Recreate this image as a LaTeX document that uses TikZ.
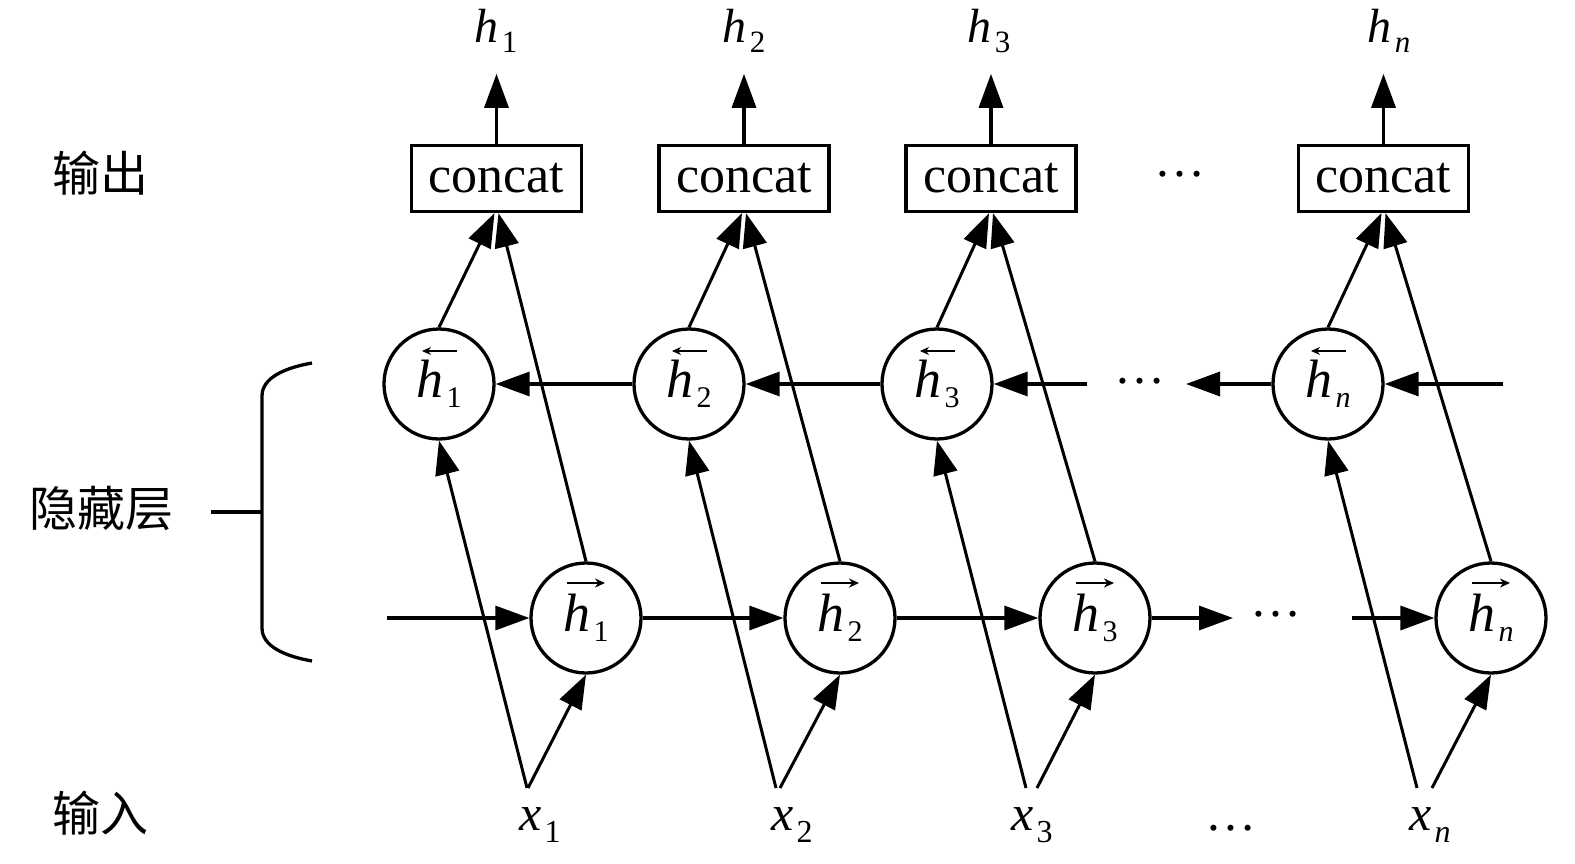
\documentclass[tikz,border=0pt]{standalone}
\usepackage{fontspec}
\setmainfont{Liberation Serif}
\newfontfamily\cjk{Noto Sans CJK SC}
\usetikzlibrary{arrows.meta}
\newcommand{\hcirc}[1]{{\fontsize{54}{54}\selectfont\itshape h}\kern3pt\raisebox{-10pt}{\fontsize{30}{30}\selectfont #1}}
\newcommand{\hout}[1]{{\fontsize{48}{48}\selectfont\itshape h}\kern3pt\raisebox{-10pt}{\fontsize{31}{31}\selectfont #1}}
\newcommand{\xin}[1]{{\fontsize{50}{50}\selectfont\itshape x}\kern3pt\raisebox{-12pt}{\fontsize{32}{32}\selectfont #1}}
\begin{document}
\begin{tikzpicture}[x=1pt,y=-1pt,
  circ/.style={circle,draw,line width=3.3pt,minimum size=110pt,inner sep=0pt},
  cbox/.style={draw,line width=3.3pt,minimum width=170pt,minimum height=66pt,inner sep=0pt,font=\fontsize{52}{52}\selectfont},
  lbl/.style={inner sep=0pt},
  cn/.style={inner sep=0pt,font=\cjk\fontsize{48}{48}\selectfont},
  dots/.style={inner sep=0pt,anchor=base,font=\fontsize{51}{51}\selectfont},
  arr/.style={line width=3.4pt,-{Triangle[length=34pt,width=24pt]}},
  darr/.style={line width=3pt,-{Triangle[length=34pt,width=24pt]}},
  sbarr/.style={line width=1.2pt,-{Stealth[length=9pt,width=8pt]}},
  sfarr/.style={line width=2.2pt,-{Stealth[length=10pt,width=9pt]}}
]
\useasboundingbox (0,0) rectangle (1575,864);
\fill[white] (0,0) rectangle (1575,864);

% side labels
\node[cn] (lout) at (100,173) {输出};
\node[cn] (lhid) at (101,508) {隐藏层};
\node[cn] (lin) at (100,813) {输入};
\draw[line width=3.3pt] (312,363) .. controls (284,368) and (262,378) .. (262,396) -- (262,628) .. controls (262,646) and (284,656) .. (312,661);
\draw[line width=3.3pt] (211,512) -- (262,512);

% concat boxes
\node[cbox] (c1) at (496.5,178.5) {concat};
\node[cbox] (c2) at (744,178.5) {concat};
\node[cbox] (c3) at (991,178.5) {concat};
\node[cbox] (cn) at (1383.5,178.5) {concat};
\node[dots] (cdots) at (1180,176.5) {…};

% outputs
\node[lbl] (o1) at (496,31) {\hout{1}};
\node[lbl] (o2) at (744,31) {\hout{2}};
\node[lbl] (o3) at (989,31) {\hout{3}};
\node[lbl] (on) at (1389,31) {\hout{\itshape n}};
\path (c1.north) ++(0,-70) coordinate (t1);
\path (c2.north) ++(0,-70) coordinate (t2);
\path (c3.north) ++(0,-70) coordinate (t3);
\path (cn.north) ++(0,-70) coordinate (tn);
\draw[arr] (c1.north) -- (t1);
\draw[arr] (c2.north) -- (t2);
\draw[arr] (c3.north) -- (t3);
\draw[arr] (cn.north) -- (tn);

% backward circles
\node[circ] (b1) at (439,384) {\hcirc{1}};
\node[circ] (b2) at (689,384) {\hcirc{2}};
\node[circ] (b3) at (937,384) {\hcirc{3}};
\node[circ] (bn) at (1328,384) {\hcirc{\itshape n}};
% forward circles
\node[circ] (f1) at (586,618) {\hcirc{1}};
\node[circ] (f2) at (840,618) {\hcirc{2}};
\node[circ] (f3) at (1095,618) {\hcirc{3}};
\node[circ] (fn) at (1491,618) {\hcirc{\itshape n}};

% small direction arrows
\foreach \n in {b1,b2,b3,bn} \draw[sbarr] ([shift={(18,-33)}]\n.center) -- ++(-35,0);
\foreach \n in {f1,f2,f3,fn} \draw[sfarr] ([shift={(-19,-35)}]\n.center) -- ++(38,0);

% backward row connectors
\draw[arr] (b2) -- (b1);
\draw[arr] (b3) -- (b2);
\coordinate (bd1) at (1087,384);
\draw[arr] (bd1) -- (b3);
\node[dots] (bdots) at (1140,383.5) {…};
\coordinate (bd2) at (1186,384);
\draw[arr] (bn) -- (bd2);
\coordinate (bin) at (1503,384);
\draw[arr] (bin) -- (bn);

% forward row connectors
\coordinate (fin) at (387,618);
\draw[arr] (fin) -- (f1);
\draw[arr] (f1) -- (f2);
\draw[arr] (f2) -- (f3);
\coordinate (fd1) at (1233,618);
\draw[arr] (f3) -- (fd1);
\node[dots] (fdots) at (1276,616.5) {…};
\coordinate (fd2) at (1352,618);
\draw[arr] (fd2) -- (fn);

% inputs
\node[lbl] (x1) at (540,825) {\xin{1}};
\node[lbl] (x2) at (792,825) {\xin{2}};
\node[lbl] (x3) at (1032,825) {\xin{3}};
\node[lbl] (xn) at (1430,825) {\xin{\itshape n}};
\node[dots] (xdots) at (1231,830.5) {…};
\coordinate (a1l) at (527,788); \coordinate (a1r) at (528,788);
\coordinate (a2l) at (776,788); \coordinate (a2r) at (780,788);
\coordinate (a3l) at (1026,788); \coordinate (a3r) at (1037,788);
\coordinate (anl) at (1417,788); \coordinate (anr) at (1432,788);

\draw[darr] (a1l) -- (b1.south);
\draw[darr] (a1r) -- (f1.south);
\draw[darr] (a2l) -- (b2.south);
\draw[darr] (a2r) -- (f2.south);
\draw[darr] (a3l) -- (b3.south);
\draw[darr] (a3r) -- (f3.south);
\draw[darr] (anl) -- (bn.south);
\draw[darr] (anr) -- (fn.south);

% hidden to concat
\draw[darr] (b1.north) -- ([xshift=-2pt]c1.south);
\draw[darr] (f1.north) -- ([xshift=2pt]c1.south);
\draw[darr] (b2.north) -- ([xshift=-2pt]c2.south);
\draw[darr] (f2.north) -- ([xshift=2pt]c2.south);
\draw[darr] (b3.north) -- ([xshift=-2pt]c3.south);
\draw[darr] (f3.north) -- ([xshift=2pt]c3.south);
\draw[darr] (bn.north) -- ([xshift=-2pt]cn.south);
\draw[darr] (fn.north) -- ([xshift=2pt]cn.south);
\end{tikzpicture}
\end{document}
